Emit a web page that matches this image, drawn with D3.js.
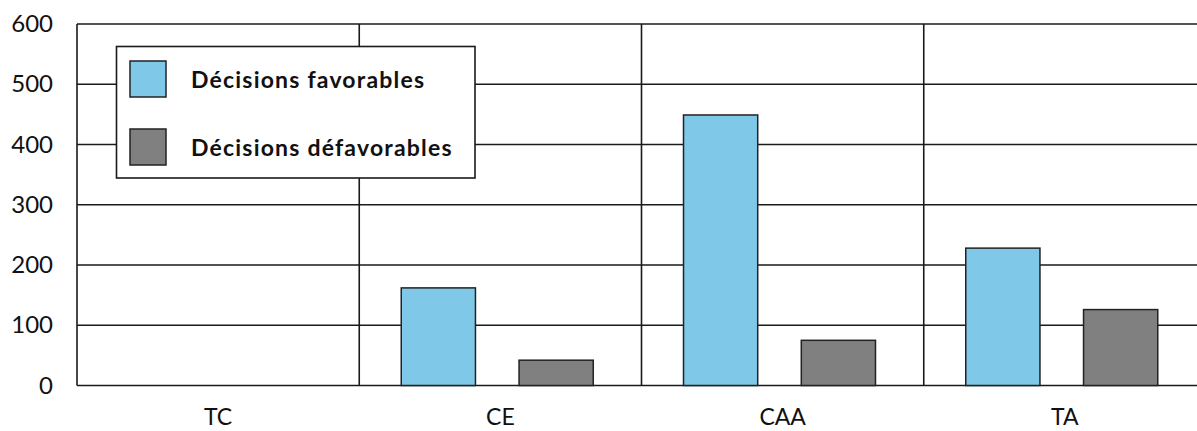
<!DOCTYPE html>
<html>
<head>
<meta charset="utf-8">
<script src="https://cdn.jsdelivr.net/npm/d3@7"></script>
<style>
  html, body { margin: 0; padding: 0; background: #fff; }
  svg { display: block; }
  text { font-family: Lato, "Open Sans", sans-serif; fill: #111; }
</style>
</head>
<body>
<svg id="chart" width="1197" height="431"></svg>
<script>
// Juridictions and number of decisions per outcome
const categories = ["TC", "CE", "CAA", "TA"];
const seriesNames = ["Décisions favorables", "Décisions défavorables"];
const favorables = [0, 162, 449, 228];
const defavorables = [0, 42, 75, 126];
const yTicks = [0, 100, 200, 300, 400, 500, 600];
const colors = ["#7fc8e8", "#808080"];

const svg = d3.select("#chart");
const plotLeft = 77, plotRight = 1206, plotTop = 24, plotBottom = 385.5;

const x0 = d3.scaleBand().domain(categories).range([plotLeft, plotRight]);
const x1 = d3.scaleBand().domain(seriesNames).range([42, 234]).paddingInner(0.37);
const y = d3.scaleLinear().domain([0, 600]).range([plotBottom, plotTop]);

// Horizontal gridlines
svg.append("g")
  .selectAll("line")
  .data(yTicks)
  .join("line")
  .attr("x1", plotLeft).attr("x2", plotRight)
  .attr("y1", d => y(d)).attr("y2", d => y(d))
  .attr("stroke", "#1a1a1a").attr("stroke-width", 1.6);

// Vertical separators between categories (and left frame)
svg.append("g")
  .selectAll("line")
  .data(categories)
  .join("line")
  .attr("x1", d => x0(d)).attr("x2", d => x0(d))
  .attr("y1", plotTop).attr("y2", plotBottom)
  .attr("stroke", "#1a1a1a").attr("stroke-width", 1.6);

// Y axis labels
const yAxis = d3.axisLeft(y).tickValues(yTicks).tickSize(0).tickPadding(24);
const gy = svg.append("g").attr("transform", `translate(${plotLeft},0)`).call(yAxis);
gy.select(".domain").remove();
gy.selectAll("text")
  .style("font-family", "Lato, 'Open Sans', sans-serif")
  .style("font-size", "24px")
  .attr("fill", "#111");

// X axis labels
const xAxis = d3.axisBottom(x0).tickSize(0).tickPadding(23);
const gx = svg.append("g").attr("transform", `translate(0,${plotBottom})`).call(xAxis);
gx.select(".domain").remove();
gx.selectAll("text")
  .style("font-family", "Lato, 'Open Sans', sans-serif")
  .style("font-size", "23px")
  .attr("fill", "#111");

// Bars
const rows = categories.map((c, i) => ({
  cat: c,
  values: [
    { name: seriesNames[0], value: favorables[i], color: colors[0] },
    { name: seriesNames[1], value: defavorables[i], color: colors[1] }
  ]
}));

svg.append("g")
  .selectAll("g")
  .data(rows)
  .join("g")
  .attr("transform", d => `translate(${x0(d.cat)},0)`)
  .selectAll("rect")
  .data(d => d.values.filter(v => v.value > 0))
  .join("rect")
  .attr("x", d => x1(d.name))
  .attr("width", x1.bandwidth())
  .attr("y", d => y(d.value))
  .attr("height", d => y(0) - y(d.value))
  .attr("fill", d => d.color)
  .attr("stroke", "#222")
  .attr("stroke-width", 1.5);

// Legend
const legend = svg.append("g").attr("transform", "translate(116.5,46.5)");
legend.append("rect")
  .attr("width", 358.5).attr("height", 131.5)
  .attr("fill", "#fff").attr("stroke", "#1a1a1a").attr("stroke-width", 1.6);

const items = legend.selectAll("g.item")
  .data(seriesNames)
  .join("g")
  .attr("class", "item")
  .attr("transform", (d, i) => `translate(13.5,${14.5 + i * 68})`);

items.append("rect")
  .attr("width", 36).attr("height", 36)
  .attr("fill", (d, i) => colors[i])
  .attr("stroke", "#222").attr("stroke-width", 1.5);

items.append("text")
  .attr("x", 61).attr("y", 19)
  .attr("dy", "0.35em")
  .style("font-size", "23px")
  .style("font-weight", "bold")
  .style("letter-spacing", "1.2px")
  .text(d => d);
</script>
</body>
</html>
